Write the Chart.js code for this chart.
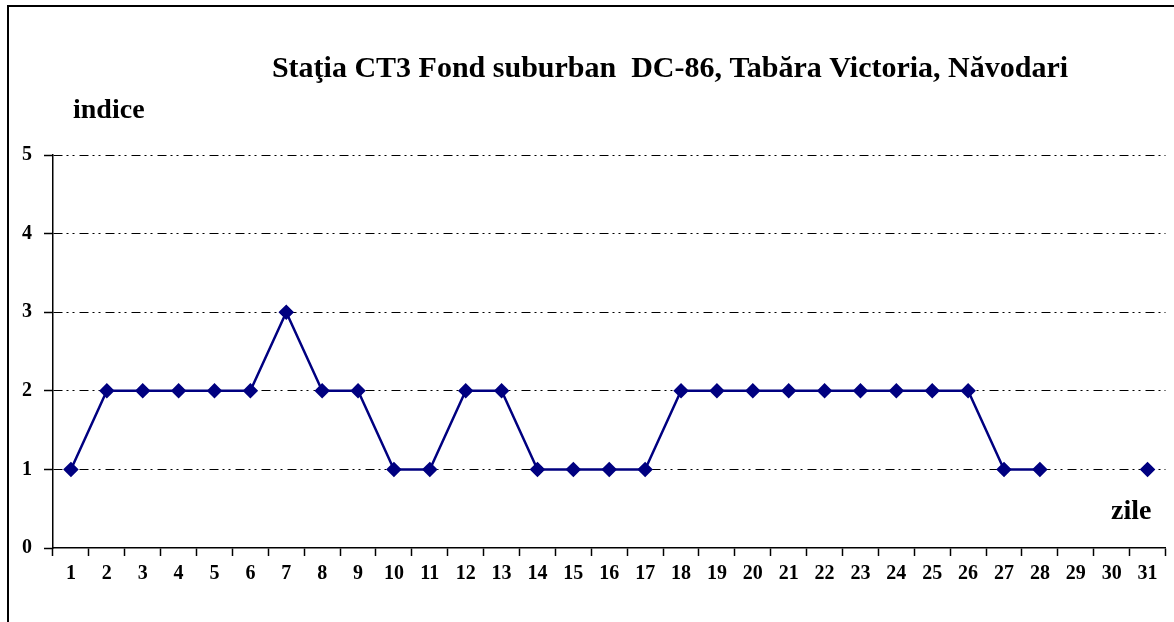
<!DOCTYPE html>
<html>
<head>
<meta charset="utf-8">
<script src="https://cdn.jsdelivr.net/npm/chart.js@4/dist/chart.umd.min.js"></script>
<style>
  html, body { margin: 0; padding: 0; background: #fff; }
  #wrap { width: 1174px; height: 622px; position: relative; }
</style>
</head>
<body>
<div id="wrap"><canvas id="chart" width="1174" height="622"></canvas></div>
<script>
// zile 1..31
const days = ['1','2','3','4','5','6','7','8','9','10','11','12','13','14','15','16','17','18','19','20','21','22','23','24','25','26','27','28','29','30','31'];
// indice per day (29, 30 missing)
const indexValues = [1,2,2,2,2,2,3,2,2,1,1,2,2,1,1,1,1,2,2,2,2,2,2,2,2,2,1,1,null,null,1];
const yTicks = [0,1,2,3,4,5];

const chartTitle = 'Staţia CT3 Fond suburban  DC-86, Tabăra Victoria, Năvodari';
const yLabel = 'indice';
const xLabel = 'zile';

const serif = "'Liberation Serif', 'Times New Roman', serif";
const navy = '#000080';

// frame + free texts
const extras = {
  id: 'extras',
  afterDraw(chart) {
    const ctx = chart.ctx;
    const area = chart.chartArea;
    ctx.save();
    ctx.strokeStyle = '#000';
    ctx.lineWidth = 2;
    ctx.beginPath();
    ctx.moveTo(8, 622);
    ctx.lineTo(8, 6);
    ctx.lineTo(1174, 6);
    ctx.stroke();

    ctx.fillStyle = '#000';
    ctx.textBaseline = 'middle';
    ctx.font = 'bold 30px ' + serif;
    ctx.textAlign = 'center';
    ctx.fillText(chartTitle, 670, 69);

    ctx.font = 'bold 28px ' + serif;
    ctx.textAlign = 'left';
    ctx.fillText(yLabel, 73, 111);

    ctx.textAlign = 'right';
    ctx.fillText(xLabel, area.right - 14, 512);
    ctx.restore();
  }
};

new Chart(document.getElementById('chart').getContext('2d'), {
  type: 'line',
  data: {
    labels: days,
    datasets: [{
      label: 'indice',
      data: indexValues,
      borderColor: navy,
      backgroundColor: navy,
      borderWidth: 2.5,
      pointStyle: 'rectRot',
      pointRadius: 6,
      pointHoverRadius: 6,
      pointBackgroundColor: navy,
      pointBorderColor: navy,
      spanGaps: false,
      tension: 0
    }]
  },
  options: {
    responsive: false,
    animation: false,
    events: [],
    layout: { padding: { top: 155, right: 6, left: 0, bottom: 0 } },
    plugins: {
      legend: { display: false },
      title: { display: false },
      tooltip: { enabled: false }
    },
    scales: {
      x: {
        offset: true,
        afterFit: s => { s.height = 74; },
        grid: {
          offset: true,
          drawOnChartArea: false,
          tickLength: 8,
          tickColor: '#000',
          tickWidth: 1.5
        },
        border: { color: '#000', width: 1.5 },
        ticks: {
          color: '#000',
          padding: 6,
          maxRotation: 0,
          autoSkip: false,
          font: { family: serif, weight: 'bold', size: 20 }
        }
      },
      y: {
        min: 0,
        max: 5,
        afterFit: s => { s.width = 53; },
        afterBuildTicks: s => { s.ticks = yTicks.map(v => ({ value: v })); },
        grid: {
          color: ctx => ctx.tick && ctx.tick.value === 0 ? 'rgba(0,0,0,0)' : '#000',
          lineWidth: 1,
          tickLength: 9,
          tickColor: '#000',
          tickBorderDash: [],
          tickWidth: 1.5
        },
        border: { color: '#000', width: 1.5, dash: [9, 4, 2, 4, 2, 5] },
        ticks: {
          color: '#000',
          padding: 12,
          font: { family: serif, weight: 'bold', size: 20 }
        }
      }
    }
  },
  plugins: [extras]
});
</script>
</body>
</html>
